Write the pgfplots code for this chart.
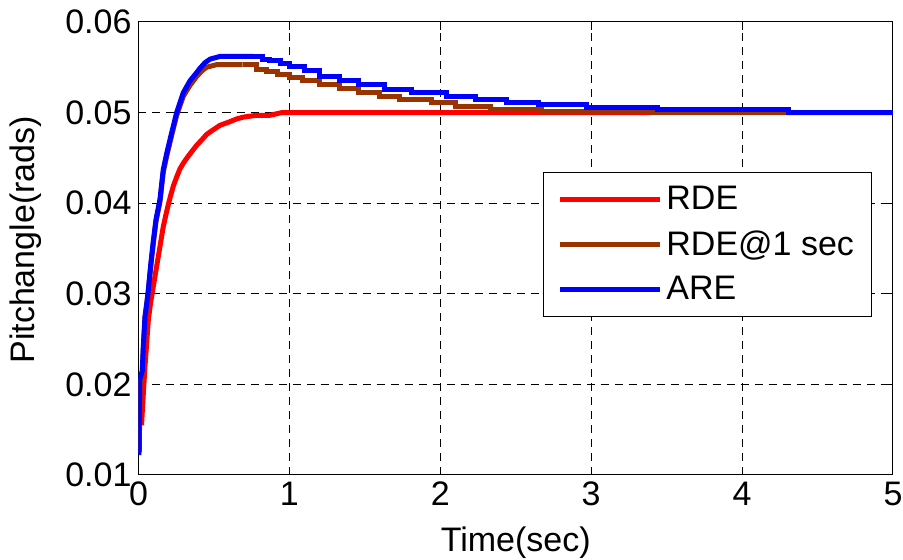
\documentclass[border=0pt]{standalone}
\usepackage{fontspec}
\setmainfont{Liberation Sans}
\usepackage{pgfplots}
\pgfplotsset{compat=1.18}
\definecolor{rdecol}{RGB}{255,0,0}
\definecolor{rdeonecol}{RGB}{153,51,0}
\definecolor{arecol}{RGB}{0,0,255}

\begin{document}
\begin{tikzpicture}
\begin{axis}[
    at={(0pt,0pt)}, anchor=south west,
    scale only axis,
    width=377.25pt, height=226.5pt,
    xmin=0, xmax=5, ymin=0.01, ymax=0.06,
    xtick={0,1,2,3,4,5},
    ytick={0.01,0.02,0.03,0.04,0.05,0.06},
    scaled y ticks=false,
    yticklabel style={/pgf/number format/.cd, fixed, fixed zerofill, precision=2},
    /pgf/number format/assume math mode=true,
    font=\fontsize{17}{20}\selectfont,
    grid=major,
    major grid style={black, line width=0.5pt, dash pattern=on 4pt off 3pt},
    tick align=inside, major tick length=4pt,
    tick style={black, line width=0.5pt},
    axis line style={line width=0.5pt},
    xlabel={Time(sec)}, ylabel={Pitchangle(rads)},
    xlabel style={at={(axis description cs:0.5,-0.150)}, anchor=center},
    ylabel style={at={(axis description cs:-0.150,0.519)}, anchor=center},
    legend style={at={(0.536,0.669)}, anchor=north west, draw=black,
        line width=0.5pt, inner xsep=7pt, inner ysep=5pt, row sep=5pt,
        font=\fontsize{17}{20}\selectfont},
    legend cell align=left,
    legend image code/.code={\draw[#1] (0pt,0pt) -- (50pt,0pt);},
    every axis plot/.append style={line width=2.5pt},
]
% RDE: rise, then flat
\addplot[rdecol] coordinates {
(0.020,0.0155)(0.032,0.0190)(0.043,0.0220)(0.054,0.0245)(0.065,0.0271)
(0.080,0.0290)(0.098,0.0308)(0.110,0.0320)(0.120,0.0330)(0.131,0.0341)
(0.142,0.0352)(0.153,0.0363)(0.164,0.0374)(0.180,0.0386)(0.197,0.0398)
(0.214,0.0409)(0.231,0.0419)(0.253,0.0429)(0.275,0.0438)(0.300,0.0445)
(0.330,0.0452)(0.358,0.0458)(0.386,0.0464)(0.420,0.0470)(0.452,0.0476)
(0.495,0.0481)(0.540,0.0486)(0.606,0.0490)(0.650,0.0493)(0.695,0.0495)
(0.780,0.0497)(0.870,0.0497)(0.950,0.0500)(5.000,0.0500)
};
\addlegendentry{RDE}
% RDE@1 sec: rise
\addplot[rdeonecol] coordinates {
(0.005,0.0125)(0.010,0.0200)(0.025,0.0212)(0.032,0.0240)(0.043,0.0272)
(0.055,0.0288)(0.065,0.0302)(0.081,0.0330)(0.098,0.0355)(0.116,0.0380)
(0.142,0.0401)(0.164,0.0434)(0.187,0.0452)(0.220,0.0475)(0.253,0.0497)
(0.297,0.0518)(0.341,0.0530)(0.386,0.0540)(0.420,0.0546)(0.450,0.0550)
(0.520,0.0553)(0.690,0.0553)
};
\addlegendentry{RDE@1 sec}
% ARE: rise
\addplot[arecol] coordinates {
(0.003,0.0122)(0.008,0.0205)(0.025,0.0215)(0.032,0.0242)(0.043,0.0275)
(0.055,0.0290)(0.065,0.0304)(0.081,0.0332)(0.098,0.0358)(0.116,0.0382)
(0.142,0.0404)(0.164,0.0437)(0.187,0.0455)(0.220,0.0478)(0.253,0.0500)
(0.297,0.0522)(0.341,0.0535)(0.375,0.0542)(0.408,0.0549)(0.440,0.0555)
(0.474,0.0559)(0.540,0.0562)(0.760,0.0562)
};
\addlegendentry{ARE}
% RDE@1 sec: stepped decay
\addplot[rdeonecol, const plot, forget plot] coordinates {
(0.690,0.0553)(0.780,0.0548)(0.850,0.0545)(0.920,0.0542)
(1.000,0.0539)(1.090,0.0535)(1.200,0.0531)(1.330,0.0527)(1.460,0.0522)
(1.600,0.0518)(1.730,0.0514)(1.940,0.0511)(2.100,0.0507)(2.330,0.0503)
(2.670,0.0501)(3.400,0.0500)(5.000,0.0500)
};
% ARE: stepped decay
\addplot[arecol, const plot, forget plot] coordinates {
(0.760,0.0562)(0.820,0.0559)(0.870,0.0557)
(0.938,0.0554)(1.000,0.0551)(1.100,0.0546)(1.200,0.0540)(1.330,0.0535)
(1.460,0.0531)(1.630,0.0526)(1.810,0.0522)(2.040,0.0518)(2.230,0.0514)
(2.440,0.0511)(2.650,0.0509)(2.970,0.0506)(3.440,0.0503)(4.310,0.0500)
(5.000,0.0500)
};
\end{axis}
\pgfresetboundingbox
\path[use as bounding box] (-69.25pt,-42.5pt) rectangle (382.25pt,237.5pt);
\end{tikzpicture}
\end{document}
